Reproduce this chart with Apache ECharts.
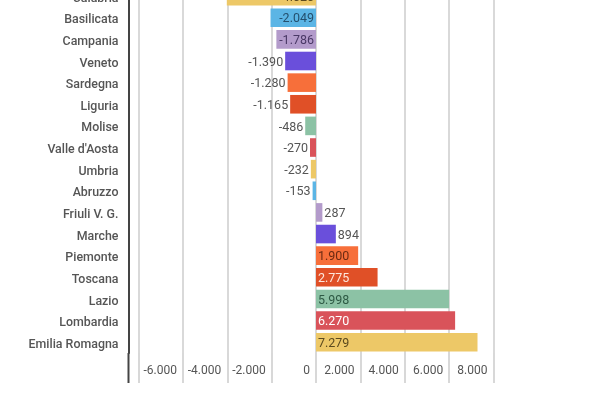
<!DOCTYPE html>
<html>
<head>
<meta charset="utf-8">
<script src="https://cdn.jsdelivr.net/npm/echarts@6/dist/echarts.min.js"></script>
<style>
html, body { margin: 0; padding: 0; background: #fff; overflow: hidden; }
/* il grafico originale è tagliato in alto: il contenitore parte sopra la finestra */
#chart { position: absolute; left: 0; top: -15px; width: 600px; height: 415px; }
</style>
</head>
<body>
<div id="chart"></div>
<script>
// regioni dall'alto verso il basso
var regions = ['Calabria', 'Basilicata', 'Campania', 'Veneto', 'Sardegna', 'Liguria', 'Molise',
    "Valle d'Aosta", 'Umbria', 'Abruzzo', 'Friuli V. G.', 'Marche', 'Piemonte', 'Toscana',
    'Lazio', 'Lombardia', 'Emilia Romagna'];
var saldo = [-4020, -2049, -1786, -1390, -1280, -1165, -486, -270, -232, -153,
    287, 894, 1900, 2775, 5998, 6270, 7279];

// colori che ruotano ogni 8 barre + colore del testo dentro la barra
var palette = ['#edc867', '#5bb5e5', '#b39bcb', '#6a4fdb', '#f76f3a', '#e05027', '#8cc2a5', '#d9535a'];
var insideText = ['#5b4a1e', '#24506e', '#4a3866', '#ffffff', '#6b2a12', '#fde6dc', '#2e5a45', '#ffffff'];

function fmt(v) {
    var s = String(Math.abs(v)).replace(/\B(?=(\d{3})+(?!\d))/g, '.');
    return v < 0 ? '-' + s : s;
}

var GRID_COLOR = '#cccccc';
var FONT = 'Roboto';

var barData = saldo.map(function (v, i) {
    var c = i % palette.length;
    var inside = Math.abs(v) >= 1700;
    var pos;
    if (v < 0) pos = inside ? 'insideRight' : 'left';
    else pos = inside ? 'insideLeft' : 'right';
    return {
        value: v,
        itemStyle: { color: palette[c] },
        label: {
            show: true,
            position: pos,
            distance: 2,
            verticalAlign: 'top',
            lineHeight: 3,
            color: inside ? insideText[c] : '#555',
            formatter: function (p) { return fmt(p.value); }
        }
    };
});

var myChart = echarts.init(document.getElementById('chart'));

var option = {
    animation: false,
    textStyle: { fontFamily: FONT },
    grid: { left: 138.5, right: 106.5, top: 0.3, bottom: 47 },
    xAxis: {
        type: 'value',
        min: -8000,
        max: 8000,
        interval: 2000,
        axisLine: { show: false },
        axisTick: { show: true, length: 30, lineStyle: { color: GRID_COLOR, width: 1.5 } },
        splitLine: { show: true, lineStyle: { color: GRID_COLOR, width: 1.5 } },
        axisLabel: {
            fontFamily: FONT,
            fontSize: 12,
            color: '#555',
            align: 'right',
            verticalAlign: 'top',
            padding: [0, 6, 0, 0],
            margin: 12,
            formatter: function (v) { return v === -8000 ? '' : fmt(v); }
        }
    },
    yAxis: {
        type: 'category',
        data: regions,
        inverse: true,
        offset: 10,
        axisLine: { show: true, onZero: false, lineStyle: { color: '#444', width: 2 } },
        axisTick: { show: false },
        axisLabel: {
            fontFamily: FONT, fontSize: 12.4, fontWeight: 500, color: '#555', margin: 10,
            verticalAlign: 'top', lineHeight: 5
        }
    },
    series: [{
        type: 'bar',
        barCategoryGap: '14%',
        label: { fontFamily: FONT, fontSize: 12.5 },
        data: barData
    }],
    graphic: [{
        // prolungamento della linea dell'asse sotto la griglia
        type: 'line',
        shape: { x1: 128.5, y1: 368, x2: 128.5, y2: 398 },
        style: { stroke: '#444', lineWidth: 2 }
    }]
};

myChart.setOption(option);
</script>
</body>
</html>
